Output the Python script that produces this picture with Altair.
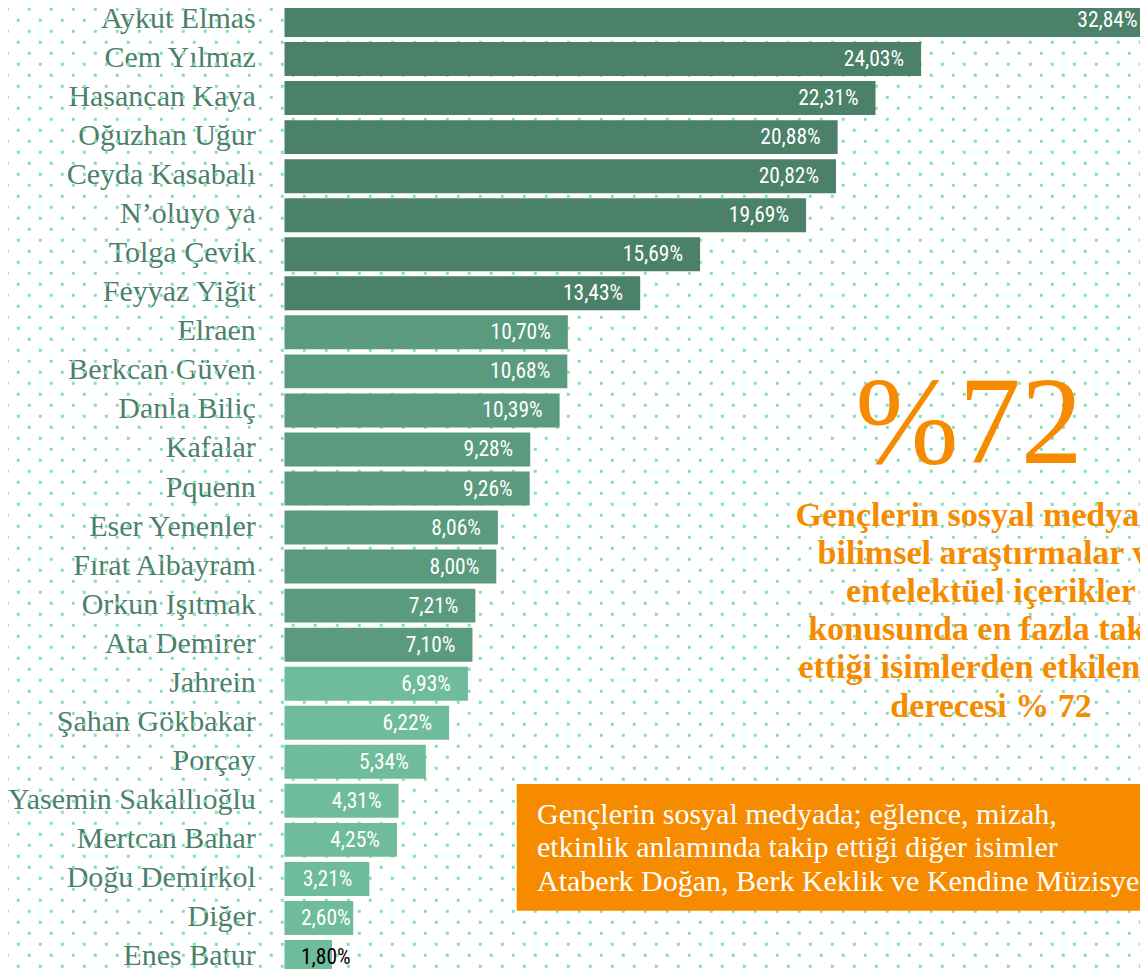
import altair as alt
import pandas as pd

names = ["Aykut Elmas", "Cem Yılmaz", "Hasancan Kaya", "Oğuzhan Uğur", "Ceyda Kasabalı",
         "N’oluyo ya", "Tolga Çevik", "Feyyaz Yiğit", "Elraen", "Berkcan Güven",
         "Danla Biliç", "Kafalar", "Pquenn", "Eser Yenenler", "Fırat Albayram",
         "Orkun Işıtmak", "Ata Demirer", "Jahrein", "Şahan Gökbakar", "Porçay",
         "Yasemin Sakallıoğlu", "Mertcan Bahar", "Doğu Demirkol", "Diğer", "Enes Batur"]
values = [32.84, 24.03, 22.31, 20.88, 20.82, 19.69, 15.69, 13.43, 10.70, 10.68,
          10.39, 9.28, 9.26, 8.06, 8.00, 7.21, 7.10, 6.93, 6.22, 5.34,
          4.31, 4.25, 3.21, 2.60, 1.80]

big_stat = "%72"
para_lines = ["Gençlerin sosyal medyada;", "bilimsel araştırmalar ve",
              "entelektüel içerikler", "konusunda en fazla takip",
              "ettiği isimlerden etkilenme", "derecesi % 72"]
box_lines = ["Gençlerin sosyal medyada; eğlence, mizah,",
             "etkinlik anlamında takip ettiği diğer isimler",
             "Ataberk Doğan, Berk Keklik ve Kendine Müzisyen"]

DARK, MID, LIGHT = "#4b8069", "#5a9a7e", "#6ebc9b"
ORANGE = "#f78b00"
DOT = "#84e0bc"
NUMFONT = "Roboto Condensed, Liberation Sans Narrow, DejaVu Sans Condensed, sans-serif"

df = pd.DataFrame({"name": names, "value": values})

# layout (page pixels): plot starts at x=284.3, page margin 8
X0 = 284.3
Y0 = 8
W = 1132 - (X0 - 8)
H = 961
PXPER = 26.5

yscale = alt.Scale(range=[0 - Y0, 977 - Y0], paddingInner=0.13, paddingOuter=0.077)
yenc = alt.Y("name:N", sort=names, scale=yscale,
             axis=alt.Axis(title=None, domain=False, ticks=False, grid=False,
                           labelFont="Liberation Serif", labelFontSize=30,
                           labelColor="#4b8069", labelPadding=29,
                           labelBaseline="alphabetic", labelOffset=8,
                           labelLimit=400))
xscale = alt.Scale(domain=[0, W / PXPER], nice=False, zero=True)

dots = alt.Chart(alt.sequence(0, 89 * 53, as_="i")).transform_calculate(
    r="floor(datum.i / 53)", c="datum.i % 53"
).transform_calculate(
    px=f"7.3 + 22 * datum.c + (datum.r % 2) * 11 - {X0}",
    py=f"9.3 + 11 * datum.r - {Y0}",
).mark_square(size=9, color=DOT, opacity=1, filled=True).encode(
    x=alt.X("px:Q", scale=None, axis=None),
    y=alt.Y("py:Q", scale=None, axis=None),
)

bars = alt.Chart(df).mark_bar(clip=True).encode(
    y=yenc,
    x=alt.X("value:Q", scale=xscale, axis=None),
    color=alt.Color("value:Q", legend=None,
                    scale=alt.Scale(type="threshold", domain=[7, 12],
                                    range=[LIGHT, MID, DARK])),
)

lab_base = alt.Chart(df).transform_calculate(
    txt="replace(format(datum.value, '.2f'), '.', ',') + '%'",
)

labels_big = lab_base.transform_filter("datum.value >= 3").mark_text(
    align="right", baseline="middle", dx=-17, dy=1, font=NUMFONT, fontSize=21.5,
    color="#ffffff",
).encode(
    y=alt.Y("name:N", sort=names),
    x=alt.X("value:Q", scale=xscale),
    text="txt:N",
)

labels_small = lab_base.transform_filter("datum.value < 3").mark_text(
    align="left", baseline="middle", dy=1, font=NUMFONT, fontSize=21.5,
).encode(
    y=alt.Y("name:N", sort=names),
    x=alt.value(301 - X0),
    text="txt:N",
    color=alt.condition("datum.value < 2", alt.value("#000000"), alt.value("#ffffff")),
)

one = alt.Data(values=[{"k": 1}])

box = alt.Chart(one).mark_rect(color=ORANGE).encode(
    x=alt.value(516.7 - X0), x2=alt.value(W + 20),
    y=alt.value(784 - Y0), y2=alt.value(910.7 - Y0),
)

box_text = alt.Chart(one).mark_text(
    text=box_lines, align="left", baseline="alphabetic", lineHeight=33.3,
    font="Liberation Serif", fontSize=30, color="#ffffff",
).encode(x=alt.value(537 - X0), y=alt.value(824 - Y0))

big = alt.Chart(one).mark_text(
    text=big_stat, align="center", baseline="alphabetic",
    font="Liberation Serif", fontSize=124, color=ORANGE,
).encode(x=alt.value(969 - X0), y=alt.value(463 - Y0))

para = alt.Chart(one).mark_text(
    text=para_lines, align="center", baseline="alphabetic", lineHeight=38.2,
    font="Liberation Serif", fontSize=34, fontWeight="bold", color=ORANGE,
).encode(x=alt.value(991 - X0), y=alt.value(525.5 - Y0))

chart = alt.layer(dots, bars, labels_big, labels_small, box, box_text, big, para).properties(
    width=W, height=H,
    autosize=alt.AutoSizeParams(type="none"),
    padding={"left": X0 - 8, "top": 0, "right": 0, "bottom": 0},
    background="#ffffff",
).configure_view(stroke=None)

chart.save("out.html", embed_options={"renderer": "svg", "actions": False})
